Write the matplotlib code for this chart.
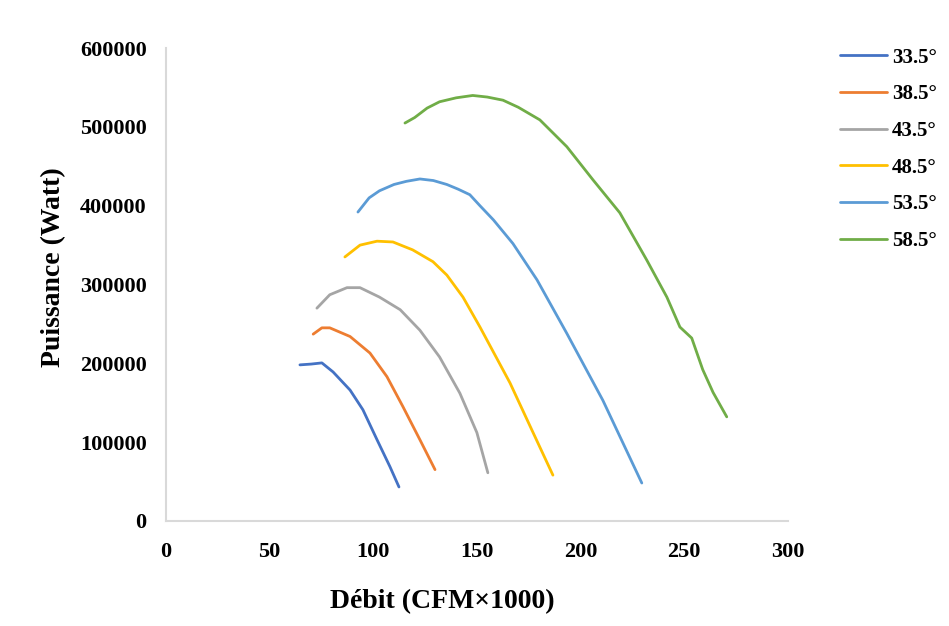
import matplotlib.pyplot as plt

# débit (CFM x 1000) and puissance (W)
x_335 = [64.6, 70, 75.2, 80.6, 88.8, 95, 101.8, 108, 112.4]
y_335 = [198000, 199000, 200500, 189000, 166000, 141000, 103000, 69000, 43000]

x_385 = [71, 75.2, 79, 88.8, 98.4, 106.6, 114.3, 122.5, 129.8]
y_385 = [237000, 245000, 245000, 234000, 213000, 183000, 145000, 103000, 65000]

x_435 = [72.8, 79, 87.3, 93.6, 103, 113, 122.5, 132, 141.8, 150, 155.3]
y_435 = [270000, 287000, 296000, 296000, 284000, 268000, 242000, 208000, 162000, 112000, 61000]

x_485 = [86.3, 93.6, 101.8, 109.5, 119, 128.8, 135.5, 143.3, 151.5, 166, 176.6, 186.7]
y_485 = [335000, 350000, 355000, 354000, 344000, 329000, 312000, 284000, 246000, 175000, 115000, 58000]

x_535 = [92.6, 98, 103, 110, 116, 122.5, 129, 135.5, 141, 146.6, 151.5, 158, 167.4, 179, 193.4, 210.8, 229.6]
y_535 = [392000, 410000, 419000, 427000, 431000, 434000, 432000, 427000, 421000, 414000, 400000, 382000, 352000, 306000, 238000, 153000, 48000]

x_585 = [115.3, 120, 126, 132, 140, 148, 155, 162.6, 170, 180.4, 193.4, 206, 219, 232, 241.7, 248, 253.7, 259, 264, 270.6]
y_585 = [505000, 512000, 524000, 532000, 537000, 540000, 538000, 534000, 525000, 509000, 475000, 433000, 391000, 331000, 284000, 246000, 232000, 192000, 163000, 132000]

labels = ['33.5°', '38.5°', '43.5°', '48.5°', '53.5°', '58.5°']
colors = ['#4472C4', '#ED7D31', '#A5A5A5', '#FFC000', '#5B9BD5', '#70AD47']

plt.rcParams['font.family'] = ['Liberation Serif', 'DejaVu Serif']
plt.rcParams['font.weight'] = 'bold'

fig = plt.figure(figsize=(9.49, 6.26), dpi=100)
ax = fig.add_axes([0.175, 0.168, 0.655, 0.755])

series = [(x_335, y_335), (x_385, y_385), (x_435, y_435),
          (x_485, y_485), (x_535, y_535), (x_585, y_585)]
for (xs, ys), lab, col in zip(series, labels, colors):
    ax.plot(xs, ys, color=col, lw=2.0, label=lab,
            solid_capstyle='round', solid_joinstyle='round')

ax.set_xlim(0, 300)
ax.set_ylim(0, 600000)
ax.set_xticks([0, 50, 100, 150, 200, 250, 300])
ax.set_yticks([0, 100000, 200000, 300000, 400000, 500000, 600000])
ax.tick_params(length=0, labelsize=16)
ax.tick_params(axis='y', pad=14)
ax.tick_params(axis='x', pad=15)
for lbl in ax.get_xticklabels() + ax.get_yticklabels():
    lbl.set_fontweight('bold')

for s in ['top', 'right']:
    ax.spines[s].set_visible(False)
for s in ['left', 'bottom']:
    ax.spines[s].set_color('#D9D9D9')
    ax.spines[s].set_linewidth(1.5)

ax.set_xlabel('Débit (CFM×1000)', fontsize=20, fontweight='bold', labelpad=20)
ax.set_ylabel('Puissance (Watt)', fontsize=20, fontweight='bold', labelpad=10)
ax.xaxis.label.set_x(0.444)
ax.yaxis.label.set_y(0.537)

ax.legend(loc='upper left', bbox_to_anchor=(1.0836, 1.001), frameon=False,
          borderpad=0, borderaxespad=0, handlelength=2.25, labelspacing=0.8,
          handletextpad=0.25, prop={'weight': 'bold', 'size': 15})

fig.savefig('out.png', dpi=100)
